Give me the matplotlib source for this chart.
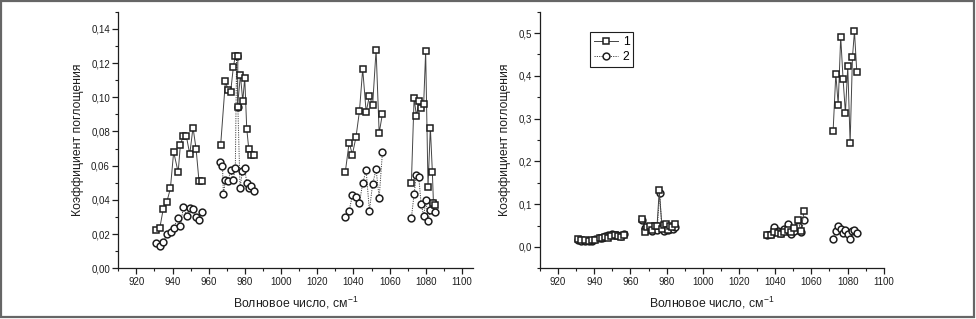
import matplotlib
matplotlib.use("Agg")
import matplotlib.pyplot as plt
from matplotlib.ticker import MultipleLocator, FuncFormatter
from matplotlib.patches import Rectangle

plt.rcParams["font.family"] = ["Liberation Sans", "DejaVu Sans"]
plt.rcParams["mathtext.fontset"] = "custom"
plt.rcParams["mathtext.rm"] = "Liberation Sans"
plt.rcParams["mathtext.default"] = "regular"

# %% data: wavenumber groups (cm-1) and absorption coefficients
# series 1 = squares, series 2 = circles
g1_sq_x = [931.1, 932.9, 934.8, 936.8, 938.8, 940.6, 943.1, 944.3, 945.8, 947.6, 949.5, 951.3, 953.0, 954.6, 956.3]
g1_ci_x = [930.9, 932.9, 934.9, 936.9, 939.0, 940.6, 943.0, 944.3, 946.0, 947.8, 949.7, 951.3, 952.8, 954.6, 956.5]

g3_x = [1035.5, 1037.6, 1039.4, 1041.4, 1043.3, 1045.1, 1047.0, 1048.8, 1050.6, 1052.5, 1054.2, 1056.0]

g4_sq_x = [1072.0, 1073.5, 1074.8, 1076.3, 1077.4, 1078.8, 1079.9, 1081.2, 1082.5, 1083.6, 1084.2, 1085.1]
g4_ci_x = [1072.0, 1073.5, 1074.8, 1076.1, 1077.4, 1078.8, 1080.1, 1081.2, 1082.5, 1083.8, 1085.1]

# left chart
left_g1_sq = [0.0223, 0.0233, 0.0344, 0.0387, 0.0467, 0.0680, 0.0562, 0.0719, 0.0774, 0.0774, 0.0667, 0.0823, 0.0698,
              0.0511, 0.0508]
left_g1_ci = [0.0146, 0.0128, 0.0156, 0.0198, 0.0210, 0.0235, 0.0296, 0.0249, 0.0358, 0.0308, 0.0354, 0.0345, 0.0302,
              0.0282, 0.0330]

left_g2_sq_x = [966.6, 969.2, 970.7, 972.1, 973.6, 974.7, 976.1, 975.9, 977.5, 978.8, 979.9, 981.0, 982.1, 983.2, 984.8]
left_g2_sq = [0.0723, 0.1093, 0.1044, 0.1030, 0.1176, 0.1243, 0.1239, 0.0943, 0.1130, 0.0978, 0.1114, 0.0817, 0.0700,
              0.0661, 0.0665]
left_g2_ci_x = [966.3, 967.6, 968.1, 969.2, 970.7, 972.1, 973.4, 974.7, 975.4, 976.1, 977.3, 978.6, 979.9, 981.0, 982.1,
                983.4, 984.8]
left_g2_ci = [0.0622, 0.0597, 0.0432, 0.0515, 0.0509, 0.0573, 0.0515, 0.0589, 0.1243, 0.0943, 0.0470, 0.0569, 0.0589,
              0.0496, 0.0467, 0.0480, 0.0451]

left_g3_sq = [0.0564, 0.0735, 0.0665, 0.0768, 0.0918, 0.1165, 0.0914, 0.1007, 0.0955, 0.1278, 0.0791, 0.0902]
left_g3_ci = [0.0301, 0.0334, 0.0428, 0.0418, 0.0381, 0.0499, 0.0573, 0.0336, 0.0494, 0.0578, 0.0412, 0.0677]

left_g4_sq = [0.0497, 0.0993, 0.0893, 0.0978, 0.0939, 0.0960, 0.1268, 0.0476, 0.0823, 0.0564, 0.0383, 0.0373]
left_g4_ci = [0.0293, 0.0433, 0.0548, 0.0532, 0.0375, 0.0308, 0.0398, 0.0278, 0.0342, 0.0383, 0.0330]

# right chart
right_g1_sq = [0.018, 0.017, 0.016, 0.014, 0.016, 0.017, 0.020, 0.021, 0.023, 0.022, 0.026, 0.027, 0.025, 0.024, 0.029]
right_g1_ci = [0.016, 0.015, 0.013, 0.015, 0.015, 0.019, 0.020, 0.022, 0.025, 0.028, 0.030, 0.027, 0.029, 0.026, 0.031]

right_g2_sq_x = [966.6, 967.9, 969.2, 970.7, 972.1, 973.6, 974.7, 975.9, 977.5, 978.8, 979.9, 981.0, 982.1, 983.2, 984.8]
right_g2_sq = [0.066, 0.036, 0.046, 0.050, 0.040, 0.048, 0.050, 0.132, 0.042, 0.052, 0.054, 0.040, 0.048, 0.046, 0.054]
right_g2_ci_x = [966.3, 967.9, 969.2, 970.7, 972.1, 973.4, 974.7, 976.2, 977.3, 978.6, 979.9, 981.0, 982.1, 983.4, 984.8]
right_g2_ci = [0.062, 0.044, 0.040, 0.046, 0.038, 0.044, 0.040, 0.125, 0.044, 0.038, 0.048, 0.040, 0.044, 0.042, 0.046]

right_g3_sq = [0.027, 0.028, 0.036, 0.032, 0.030, 0.035, 0.040, 0.036, 0.044, 0.064, 0.038, 0.085]
right_g3_ci = [0.028, 0.031, 0.047, 0.037, 0.032, 0.042, 0.054, 0.030, 0.038, 0.048, 0.036, 0.063]

right_g4_sq = [0.271, 0.405, 0.333, 0.491, 0.393, 0.313, 0.422, 0.243, 0.444, 0.504, 0.409]
right_g4_ci = [0.019, 0.038, 0.048, 0.042, 0.033, 0.039, 0.031, 0.019, 0.037, 0.039, 0.033]
right_g4_x = [1072.0, 1073.5, 1074.8, 1076.2, 1077.5, 1078.8, 1080.1, 1081.4, 1082.7, 1083.8, 1085.1]

legend_labels = ["1", "2"]
x_label = "Волновое число, см$^{-1}$"
y_label = "Коэффициент поглощения"

left_groups = [
    (g1_sq_x, left_g1_sq, g1_ci_x, left_g1_ci),
    (left_g2_sq_x, left_g2_sq, left_g2_ci_x, left_g2_ci),
    (g3_x, left_g3_sq, g3_x, left_g3_ci),
    (g4_sq_x, left_g4_sq, g4_ci_x, left_g4_ci),
]
right_groups = [
    (g1_sq_x, right_g1_sq, g1_ci_x, right_g1_ci),
    (right_g2_sq_x, right_g2_sq, right_g2_ci_x, right_g2_ci),
    (g3_x, right_g3_sq, g3_x, right_g3_ci),
    (right_g4_x, right_g4_sq, right_g4_x, right_g4_ci),
]

ink = "#1e1e1e"
sq_style = dict(marker="s", ms=4.6, mfc="white", mec=ink, mew=1.1, color="#444444", lw=0.7, ls="-", zorder=3)
ci_style = dict(marker="o", ms=4.9, mfc="white", mec=ink, mew=1.1, color="#444444", lw=0.7, ls=(0, (1.2, 1.2)),
                zorder=2)

# %%
fig = plt.figure(figsize=(9.76, 3.19), dpi=100)
fig.patches.append(Rectangle((0.001, 0.005), 0.997, 0.992, transform=fig.transFigure, fill=False,
                             edgecolor="#666666", lw=1.6))

ax1 = fig.add_axes([0.1212, 0.1589, 0.3633, 0.8044])
ax2 = fig.add_axes([0.5533, 0.1589, 0.3522, 0.8044])


def draw(ax, groups, ylim, major, minor, fmt):
    h1 = h2 = None
    for sx, sy, cx, cy in groups:
        h2, = ax.plot(cx, cy, **ci_style)
        h1, = ax.plot(sx, sy, **sq_style)
    ax.set_ylim(*ylim)
    ax.yaxis.set_major_locator(MultipleLocator(major))
    ax.yaxis.set_minor_locator(MultipleLocator(minor))
    ax.yaxis.set_major_formatter(FuncFormatter(lambda v, p: (fmt % v).replace(".", ",")))
    ax.xaxis.set_major_locator(MultipleLocator(20))
    ax.xaxis.set_minor_locator(MultipleLocator(10))
    for s in ["top", "right"]:
        ax.spines[s].set_visible(False)
    for s in ["left", "bottom"]:
        ax.spines[s].set_color(ink)
        ax.spines[s].set_linewidth(0.9)
    ax.tick_params(which="major", direction="out", length=4, width=0.9, color=ink, labelsize=7,
                   labelcolor=ink, pad=2)
    ax.tick_params(which="minor", direction="out", length=2, width=0.8, color=ink)
    ax.set_xlabel(x_label, fontsize=8.8, color=ink, labelpad=6)
    ax.set_ylabel(y_label, fontsize=8.8, color=ink, labelpad=5)
    return h1, h2


draw(ax1, left_groups, (0, 0.15), 0.02, 0.01, "%.2f")
ax1.set_xlim(910, 1106)
h1, h2 = draw(ax2, right_groups, (-0.05, 0.55), 0.1, 0.05, "%.1f")
ax2.set_xlim(910, 1100)

leg = ax2.legend([h1, h2], legend_labels, loc="upper left", bbox_to_anchor=(0.145, 0.92), borderaxespad=0,
                 fontsize=8.8, handlelength=2.0, handletextpad=0.4, borderpad=0.3, labelspacing=0.25,
                 fancybox=False, framealpha=1)
leg.get_frame().set_edgecolor(ink)
leg.get_frame().set_linewidth(0.8)

plt.savefig("out.png", dpi=100)
